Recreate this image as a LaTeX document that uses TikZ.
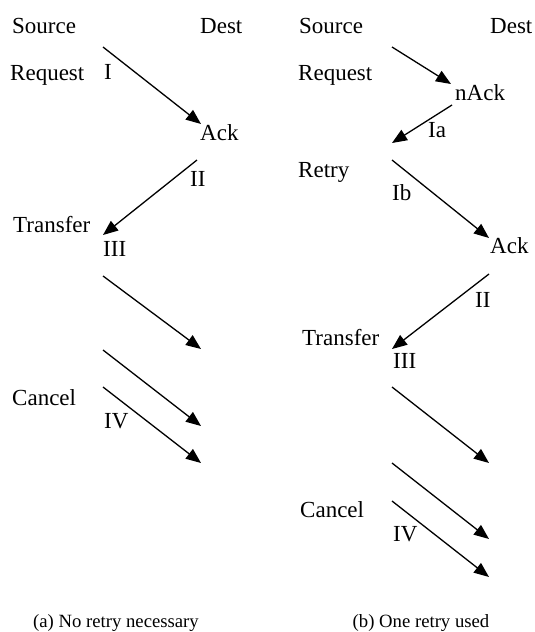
\documentclass[tikz,border=0pt]{standalone}
\usepackage{fontspec}
\setmainfont{Liberation Serif}
\usetikzlibrary{arrows.meta}
\begin{document}
\begin{tikzpicture}[x=1pt,y=-1pt,
  lbl/.style={anchor=base west,inner sep=0pt,font=\fontsize{23}{27}\selectfont},
  captext/.style={anchor=base,inner sep=0pt,font=\fontsize{18.7}{22}\selectfont},
  msg/.style={line width=1.3pt,-{Triangle[length=15pt,width=12pt]}}]
\useasboundingbox (0,0) rectangle (535,632);
% ---------- left panel ----------
\node[lbl] (srcA) at (12,33) {Source};
\node[lbl] (dstA) at (200,33) {Dest};
\node[lbl] (reqA) at (10,80) {Request};
\node[lbl] (IA) at (104,79) {I};
\node[lbl] (ackA) at (200,140) {Ack};
\node[lbl] (IIA) at (190,186) {II};
\node[lbl] (trA) at (13,232) {Transfer};
\node[lbl] (IIIA) at (103,256) {III};
\node[lbl] (canA) at (12,405) {Cancel};
\node[lbl] (IVA) at (104,428) {IV};
\node[captext] (capA) at (116,627) {(a) No retry necessary};
\coordinate (a1s) at (103,47);  \coordinate (a1e) at (201,124);
\coordinate (a2s) at (197,160); \coordinate (a2e) at (103,235);
\coordinate (a3s) at (103,276); \coordinate (a3e) at (201,349);
\coordinate (a4s) at (103,350); \coordinate (a4e) at (201,426);
\coordinate (a5s) at (103,387); \coordinate (a5e) at (201,463);
\draw[msg] (a1s) -- (a1e);
\draw[msg] (a2s) -- (a2e);
\draw[msg] (a3s) -- (a3e);
\draw[msg] (a4s) -- (a4e);
\draw[msg] (a5s) -- (a5e);
% ---------- right panel ----------
\node[lbl] (srcB) at (299,33) {Source};
\node[lbl] (dstB) at (490,33) {Dest};
\node[lbl] (reqB) at (298,80) {Request};
\node[lbl] (nackB) at (455,100) {nAck};
\node[lbl] (IaB) at (428,137) {Ia};
\node[lbl] (retB) at (298,177) {Retry};
\node[lbl] (IbB) at (392,200) {Ib};
\node[lbl] (ackB) at (490,253) {Ack};
\node[lbl] (IIB) at (475,307) {II};
\node[lbl] (trB) at (302,345) {Transfer};
\node[lbl] (IIIB) at (393,368) {III};
\node[lbl] (canB) at (300,517) {Cancel};
\node[lbl] (IVB) at (393,541) {IV};
\node[captext] (capB) at (421,627) {(b) One retry used};
\coordinate (b1s) at (392,47);  \coordinate (b1e) at (451,84);
\coordinate (b2s) at (452,105); \coordinate (b2e) at (392,143);
\coordinate (b3s) at (392,160); \coordinate (b3e) at (489,238);
\coordinate (b4s) at (489,274); \coordinate (b4e) at (392,349);
\coordinate (b5s) at (392,387); \coordinate (b5e) at (489,463);
\coordinate (b6s) at (392,463); \coordinate (b6e) at (489,539);
\coordinate (b7s) at (392,501); \coordinate (b7e) at (489,577);
\draw[msg] (b1s) -- (b1e);
\draw[msg] (b2s) -- (b2e);
\draw[msg] (b3s) -- (b3e);
\draw[msg] (b4s) -- (b4e);
\draw[msg] (b5s) -- (b5e);
\draw[msg] (b6s) -- (b6e);
\draw[msg] (b7s) -- (b7e);
\end{tikzpicture}
\end{document}
